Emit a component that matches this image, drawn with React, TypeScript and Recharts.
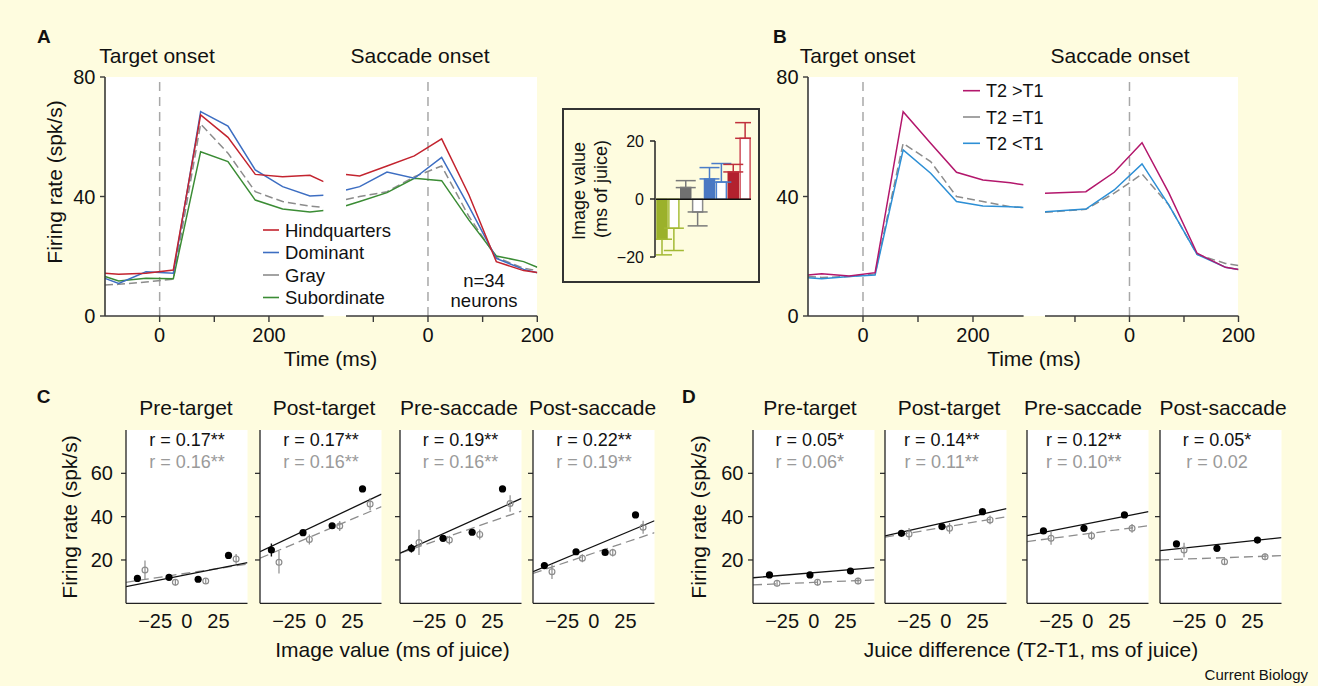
import React from "react";
import {
  LineChart,
  Line,
  XAxis,
  YAxis,
  ReferenceLine,
  BarChart,
  Bar,
  Cell,
  ErrorBar,
  ComposedChart,
  Scatter,
  CartesianGrid,
} from "recharts";

const FONT = '"Liberation Sans", Arial, Helvetica, sans-serif';
const BG = "#fefcdf";
const AXIS = "#3a3a3a";
const INK = "#111";

// ---- panel A: firing rate by image category ----
const aLeftT = [-100, -75, -25, 25, 75, 125, 175, 225, 275, 300];
const aHind = [14.3, 14.0, 14.3, 15.4, 67.3, 59.8, 47.4, 46.6, 47.1, 45.0];
const aDom = [12.6, 10.9, 14.8, 14.3, 68.4, 63.6, 48.9, 43.3, 40.2, 40.4];
const aGray = [10.4, 10.6, 11.4, 12.3, 64.3, 54.5, 41.6, 38.3, 36.8, 36.4];
const aSub = [13.2, 11.7, 12.6, 12.5, 55.0, 51.7, 38.8, 35.8, 34.8, 35.3];

const aRightT = [-150, -125, -75, -25, 25, 75, 125, 175, 200];
const aHindR = [47.4, 46.9, 50.2, 53.6, 59.3, 40.5, 18.2, 15.2, 14.6];
const aDomR = [42.2, 43.3, 48.2, 46.1, 53.1, 36.6, 19.3, 15.6, 14.5];
const aGrayR = [39.0, 40.0, 41.6, 46.6, 50.2, 33.3, 19.6, 16.0, 15.2];
const aSubR = [36.9, 38.3, 41.3, 46.1, 45.3, 32.1, 20.1, 18.2, 16.3];

const aLegend = ["Hindquarters", "Dominant", "Gray", "Subordinate"];

// ---- panel B: firing rate by juice difference ----
const bLeftT = [-100, -75, -25, 22, 73, 123, 170, 218, 268, 292];
const bHigh = [13.7, 14.1, 13.4, 14.5, 68.4, 57.8, 48.1, 45.5, 44.6, 43.9];
const bEq = [13.2, 12.9, 13.2, 14.1, 57.8, 51.7, 40.0, 38.3, 36.6, 36.3];
const bLow = [12.8, 12.5, 13.2, 13.7, 55.6, 47.8, 38.3, 36.8, 36.6, 36.3];

const bRightT = [-155, -80, -28, 23, 72, 124, 176, 200];
const bHighR = [41.1, 41.6, 48.1, 58.0, 41.3, 21.0, 16.3, 15.6];
const bEqR = [34.7, 35.7, 41.1, 47.5, 37.2, 20.6, 17.6, 16.9];
const bLowR = [34.9, 35.8, 42.2, 50.9, 37.2, 20.6, 16.3, 15.6];

const bLegend = ["T2 >T1", "T2 =T1", "T2 <T1"];

// ---- inset: image value ----
const insetCats = ["sub", "sub2", "gray", "gray2", "dom", "dom2", "hq", "hq2"];
const insetVals = [-13.8, -10.0, 4.0, -4.4, 7.0, 5.9, 9.4, 21.0];
const insetErr = [5.4, 7.7, 2.4, 4.8, 3.9, 6.4, 2.6, 5.4];

// ---- panels C and D: regressions ----
const panelTitles = ["Pre-target", "Post-target", "Pre-saccade", "Post-saccade"];

const cRBlack = ["r = 0.17**", "r = 0.17**", "r = 0.19**", "r = 0.22**"];
const cRGray = ["r = 0.16**", "r = 0.16**", "r = 0.16**", "r = 0.19**"];
const cBlackX = [-39, -14, 9, 33];
const cGrayX = [-33, -9, 15, 39];
const cBlackY = [
  [11.5, 12.0, 11.1, 22.1],
  [24.6, 32.6, 35.8, 52.8],
  [25.4, 30.0, 32.8, 52.8],
  [17.4, 23.8, 23.5, 40.8],
];
const cBlackErr = [
  [0.8, 0.8, 0.8, 0.8],
  [3.0, 1.2, 1.0, 1.0],
  [2.0, 1.0, 1.0, 1.0],
  [1.5, 1.0, 1.0, 1.0],
];
const cGrayY = [
  [15.4, 9.7, 10.3, 20.5],
  [18.9, 29.5, 35.7, 45.8],
  [28.1, 29.2, 31.8, 46.1],
  [14.6, 20.8, 23.4, 35.1],
];
const cGrayErr = [
  [4.3, 1.5, 1.2, 2.3],
  [5.2, 2.3, 2.3, 2.8],
  [5.8, 2.0, 2.3, 3.8],
  [3.4, 1.8, 1.8, 3.0],
];
const cFitBlack = [
  [7.7, 18.8],
  [23.8, 50.4],
  [23.1, 48.4],
  [14.6, 38.1],
];
const cFitGray = [
  [9.7, 18.1],
  [20.8, 44.6],
  [23.1, 42.6],
  [13.8, 32.6],
];

const dRBlack = ["r = 0.05*", "r = 0.14**", "r = 0.12**", "r = 0.05*"];
const dRGray = ["r = 0.06*", "r = 0.11**", "r = 0.10**", "r = 0.02"];
const dBlackX = [-35, -3, 29];
const dGrayX = [-29, 3, 35];
const dBlackY = [
  [13.1, 13.1, 14.9],
  [32.3, 35.4, 42.3],
  [33.4, 34.6, 40.8],
  [27.4, 25.4, 29.2],
];
const dBlackErr = [
  [0.8, 0.8, 0.8],
  [0.8, 0.8, 0.8],
  [0.8, 0.8, 0.8],
  [0.8, 0.8, 0.8],
];
const dGrayY = [
  [9.2, 9.7, 10.3],
  [32.0, 34.6, 38.5],
  [30.0, 31.2, 34.6],
  [24.6, 19.2, 21.5],
];
const dGrayErr = [
  [1.5, 1.5, 1.5],
  [2.8, 2.5, 2.0],
  [3.0, 2.0, 2.0],
  [3.3, 1.5, 1.5],
];
const dFitBlack = [
  [11.8, 16.5],
  [31.1, 43.7],
  [31.2, 42.3],
  [24.3, 30.3],
];
const dFitGray = [
  [8.5, 10.8],
  [30.5, 40.0],
  [28.5, 35.8],
  [20.0, 22.0],
];

// colours
const RED = "#c3242f";
const BLUE = "#3d6ec2";
const GRAY = "#8c8c8c";
const GREEN = "#3b8c35";
const MAGENTA = "#b3176c";
const SKY = "#2d8fd5";

const insetFill = ["#9bb12b", "#fff", "#707070", "#fff", "#4a78c2", "#fff", "#b3212e", "#fff"];
const insetStroke = ["#9bb12b", "#a9bf3c", "#707070", "#8c8c8c", "#4a78c2", "#4a80d0", "#b3212e", "#cf4f5b"];
const errKeys = ["eSub", "eGray", "eDom", "eHq"];
const errColors = ["#a3b934", "#7a7a7a", "#4a7cc8", "#c0303c"];

const fmtMinus = (v: number) => (v < 0 ? `\u2212${-v}` : `${v}`);

type SeriesDef = { key: string; color: string; dash?: string };

const aSeries: SeriesDef[] = [
  { key: "gray", color: GRAY, dash: "8 4" },
  { key: "sub", color: GREEN },
  { key: "dom", color: BLUE },
  { key: "hq", color: RED },
];
const bSeries: SeriesDef[] = [
  { key: "eq", color: GRAY, dash: "8 4" },
  { key: "lo", color: SKY },
  { key: "hi", color: MAGENTA },
];

function TimeSeg(props: {
  x: number;
  w: number;
  domain: [number, number];
  ticks: number[];
  labeled: number[];
  showY: boolean;
  yMargin?: number;
  data: Record<string, number>[];
  series: SeriesDef[];
}) {
  const { x, w, domain, ticks, labeled, showY, yMargin = 4.5, data, series } = props;
  const ml = 50;
  const mr = 22;
  const mt = 14;
  const mb = 45;
  const top = 77;
  const h = 239;
  return (
    <div style={{ position: "absolute", left: x - ml, top: top - mt }}>
      <LineChart
        width={ml + w + mr}
        height={mt + h + mb}
        data={data}
        margin={{ top: mt, right: mr, bottom: 0, left: 0 }}
      >
        <XAxis
          type="number"
          dataKey="t"
          domain={domain}
          ticks={ticks}
          allowDataOverflow
          height={mb}
          tickSize={6}
          tickMargin={5.5}
          interval={0}
          tickFormatter={(v: number) => (labeled.includes(v) ? String(v) : "")}
          axisLine={{ stroke: AXIS, strokeWidth: 1.6 }}
          tickLine={{ stroke: AXIS, strokeWidth: 1.4 }}
          tick={{ fontSize: 20, fill: INK }}
        />
        <YAxis
          width={ml}
          domain={[0, 80]}
          ticks={[0, 40, 80]}
          interval={0}
          tickSize={5}
          tickMargin={yMargin}
          axisLine={showY ? { stroke: AXIS, strokeWidth: 1.6 } : false}
          tickLine={showY ? { stroke: AXIS, strokeWidth: 1.4 } : false}
          tick={showY ? { fontSize: 20, fill: INK } : false}
        />
        <ReferenceLine x={0} stroke="#a8a8a8" strokeDasharray="9 6" strokeWidth={1.5} />
        {series.map((s) => (
          <Line
            key={s.key}
            type="linear"
            dataKey={s.key}
            stroke={s.color}
            strokeDasharray={s.dash}
            strokeWidth={1.5}
            dot={false}
            isAnimationActive={false}
          />
        ))}
      </LineChart>
    </div>
  );
}

const blackDot = (p: any) => <circle cx={p.cx} cy={p.cy} r={3.6} fill="#000" />;
const grayDot = (p: any) => (
  <circle cx={p.cx} cy={p.cy} r={2.9} fill="none" stroke={GRAY} strokeWidth={1.2} />
);

function Corr(props: {
  x: number;
  showLabels: boolean;
  yMargin: number;
  bx: number[];
  by: number[];
  be: number[];
  gx: number[];
  gy: number[];
  ge: number[];
  fitB: number[];
  fitG: number[];
}) {
  const { x, showLabels, yMargin, bx, by, be, gx, gy, ge, fitB, fitG } = props;
  const ml = 45;
  const mr = 16;
  const mb = 40;
  const top = 430;
  const w = 121.5;
  const h = 173.3;
  const black = bx.map((v, i) => ({ x: v, y: by[i], e: be[i] }));
  const gray = gx.map((v, i) => ({ x: v, y: gy[i], e: ge[i] }));
  const lineB = [
    { x: -48, y: fitB[0] },
    { x: 48, y: fitB[1] },
  ];
  const lineG = [
    { x: -48, y: fitG[0] },
    { x: 48, y: fitG[1] },
  ];
  return (
    <div style={{ position: "absolute", left: x - ml, top }}>
      <ComposedChart
        width={ml + w + mr}
        height={h + mb}
        margin={{ top: 0, right: mr, bottom: 0, left: 0 }}
      >
        <CartesianGrid fill="#fff" horizontal={false} vertical={false} />
        <XAxis
          type="number"
          dataKey="x"
          domain={[-48, 48]}
          ticks={[-25, 0, 25]}
          interval={0}
          allowDataOverflow
          height={mb}
          tickLine={false}
          tickSize={6}
          tickMargin={5}
          tickFormatter={fmtMinus}
          axisLine={{ stroke: "#222", strokeWidth: 1.3 }}
          tick={{ fontSize: 20, fill: INK }}
        />
        <YAxis
          type="number"
          dataKey="y"
          width={ml}
          domain={[0, 80]}
          ticks={[20, 40, 60]}
          interval={0}
          allowDataOverflow
          tickSize={5}
          tickMargin={yMargin}
          tickFormatter={(v: number) => (showLabels ? String(v) : "")}
          axisLine={{ stroke: "#222", strokeWidth: 1.3 }}
          tickLine={{ stroke: "#222", strokeWidth: 1.2 }}
          tick={{ fontSize: 20, fill: INK }}
        />
        <Line
          data={lineG}
          dataKey="y"
          stroke={GRAY}
          strokeDasharray="9 5"
          strokeWidth={1.3}
          dot={false}
          isAnimationActive={false}
        />
        <Line data={lineB} dataKey="y" stroke="#111" strokeWidth={1.3} dot={false} isAnimationActive={false} />
        <Scatter data={gray} shape={grayDot} isAnimationActive={false}>
          <ErrorBar dataKey="e" direction="y" width={0} stroke={GRAY} strokeWidth={1.2} />
        </Scatter>
        <Scatter data={black} shape={blackDot} isAnimationActive={false}>
          <ErrorBar dataKey="e" direction="y" width={0} stroke="#111" strokeWidth={1.4} />
        </Scatter>
      </ComposedChart>
    </div>
  );
}

function Txt(props: {
  x: number;
  y: number;
  s?: number;
  a?: "start" | "middle" | "end";
  c?: string;
  bold?: boolean;
  rot?: boolean;
  children: React.ReactNode;
}) {
  const { x, y, s = 21, a = "middle", c = INK, bold, rot, children } = props;
  return (
    <text
      x={x}
      y={y}
      fontSize={s}
      textAnchor={a}
      fill={c}
      fontWeight={bold ? 700 : 400}
      transform={rot ? `rotate(-90 ${x} ${y})` : undefined}
    >
      {children}
    </text>
  );
}

export default function App() {
  const aLeftRows = aLeftT.map((t, i) => ({ t, hq: aHind[i], dom: aDom[i], gray: aGray[i], sub: aSub[i] }));
  const aRightRows = aRightT.map((t, i) => ({ t, hq: aHindR[i], dom: aDomR[i], gray: aGrayR[i], sub: aSubR[i] }));
  const bLeftRows = bLeftT.map((t, i) => ({ t, hi: bHigh[i], eq: bEq[i], lo: bLow[i] }));
  const bRightRows = bRightT.map((t, i) => ({ t, hi: bHighR[i], eq: bEqR[i], lo: bLowR[i] }));

  const insetRows = insetCats.map((k, i) => {
    const v = insetVals[i];
    const row: Record<string, any> = { k, v };
    row[errKeys[Math.floor(i / 2)]] = v < 0 ? [insetErr[i], 0] : [0, insetErr[i]];
    return row;
  });

  const aLegendColors = [RED, BLUE, GRAY, GREEN];
  const bLegendColors = [MAGENTA, GRAY, SKY];
  const cLefts = [126, 260, 399.5, 533];
  const dLefts = [752.7, 884.7, 1026.7, 1160];
  const cTitleX = [186, 324, 459, 592.5];
  const dTitleX = [810, 949, 1083, 1223];

  return (
    <div
      style={{
        position: "fixed",
        left: 0,
        top: 0,
        width: 1318,
        height: 686,
        background: BG,
        overflow: "hidden",
        fontFamily: FONT,
      }}
    >
      {/* white plot backgrounds for A and B */}
      <div style={{ position: "absolute", left: 106, top: 77, width: 431, height: 239, background: "#fff" }} />
      <div style={{ position: "absolute", left: 808, top: 77, width: 430, height: 239, background: "#fff" }} />

      {/* A */}
      <TimeSeg
        x={105.4}
        w={218.6}
        domain={[-100, 300]}
        ticks={[0, 100, 200]}
        labeled={[0, 200]}
        showY
        data={aLeftRows}
        series={aSeries}
      />
      <TimeSeg
        x={345.7}
        w={191.3}
        domain={[-150, 200]}
        ticks={[-100, 0, 100, 200]}
        labeled={[0, 200]}
        showY={false}
        data={aRightRows}
        series={aSeries}
      />

      {/* B */}
      <TimeSeg
        x={807.7}
        w={215.6}
        domain={[-100, 292]}
        ticks={[0, 100, 200]}
        labeled={[0, 200]}
        showY
        yMargin={4.4}
        data={bLeftRows}
        series={bSeries}
      />
      <TimeSeg
        x={1044.8}
        w={193.5}
        domain={[-155, 200]}
        ticks={[-100, 0, 100, 200]}
        labeled={[0, 200]}
        showY={false}
        data={bRightRows}
        series={bSeries}
      />

      {/* inset */}
      <div
        style={{
          position: "absolute",
          left: 562,
          top: 107.5,
          width: 198,
          height: 175,
          border: "2px solid #333",
          boxSizing: "border-box",
        }}
      />
      <div style={{ position: "absolute", left: 615, top: 128.7 }}>
        <BarChart width={135} height={140} data={insetRows} margin={{ top: 12, right: 0, bottom: 12, left: 0 }}>
          <XAxis dataKey="k" hide />
          <YAxis
            width={40}
            domain={[-20, 20]}
            ticks={[-20, 0, 20]}
            interval={0}
            allowDataOverflow
            tickSize={5}
            tickMargin={6}
            tickFormatter={fmtMinus}
            axisLine={{ stroke: "#222", strokeWidth: 1.5 }}
            tickLine={{ stroke: "#222", strokeWidth: 1.5 }}
            tick={{ fontSize: 16, fill: INK }}
          />
        </BarChart>
      </div>
      <div style={{ position: "absolute", left: 655.5, top: 117.5 }}>
        <BarChart
          width={95}
          height={139.2}
          data={insetRows}
          margin={{ top: 0, right: 0, bottom: 0, left: 0 }}
          barCategoryGap={0}
        >
          <XAxis dataKey="k" hide />
          <YAxis hide domain={[-20, 28]} allowDataOverflow />
          <Bar dataKey="v" barSize={10} isAnimationActive={false} strokeWidth={1.5}>
            {insetRows.map((r, i) => (
              <Cell key={r.k} fill={insetFill[i]} stroke={insetStroke[i]} />
            ))}
            {errKeys.map((k, i) => (
              <ErrorBar key={k} dataKey={k} direction="y" width={10} stroke={errColors[i]} strokeWidth={1.5} />
            ))}
          </Bar>
          <ReferenceLine y={0} stroke="#111" strokeWidth={1.6} />
        </BarChart>
      </div>

      {/* C */}
      {cLefts.map((x, i) => (
        <Corr
          key={"c" + i}
          x={x}
          showLabels={i === 0}
          yMargin={8}
          bx={cBlackX}
          by={cBlackY[i]}
          be={cBlackErr[i]}
          gx={cGrayX}
          gy={cGrayY[i]}
          ge={cGrayErr[i]}
          fitB={cFitBlack[i]}
          fitG={cFitGray[i]}
        />
      ))}

      {/* D */}
      {dLefts.map((x, i) => (
        <Corr
          key={"d" + i}
          x={x}
          showLabels={i === 0}
          yMargin={4.5}
          bx={dBlackX}
          by={dBlackY[i]}
          be={dBlackErr[i]}
          gx={dGrayX}
          gy={dGrayY[i]}
          ge={dGrayErr[i]}
          fitB={dFitBlack[i]}
          fitG={dFitGray[i]}
        />
      ))}

      {/* text and legends */}
      <svg
        width={1318}
        height={686}
        style={{ position: "absolute", left: 0, top: 0, pointerEvents: "none", fontFamily: FONT }}
      >
        {/* A */}
        <Txt x={37} y={43} s={19} a="start" bold>
          A
        </Txt>
        <Txt x={157} y={63}>Target onset</Txt>
        <Txt x={420} y={63}>Saccade onset</Txt>
        <Txt x={62} y={182} rot>
          Firing rate (spk/s)
        </Txt>
        <Txt x={330.5} y={366}>Time (ms)</Txt>
        {aLegend.map((name, i) => (
          <g key={name}>
            <line x1={263} x2={279} y1={230 + i * 22.5} y2={230 + i * 22.5} stroke={aLegendColors[i]} strokeWidth={1.6} />
            <Txt x={285} y={236.7 + i * 22.5} s={18.5} a="start">
              {name}
            </Txt>
          </g>
        ))}
        <Txt x={484} y={287} s={18.5}>
          n=34
        </Txt>
        <Txt x={484} y={307.3} s={18.5}>
          neurons
        </Txt>

        {/* inset label */}
        <Txt x={585} y={191} s={18} rot>
          Image value
        </Txt>
        <Txt x={607} y={189} s={18} rot>
          (ms of juice)
        </Txt>

        {/* B */}
        <Txt x={773} y={43} s={19} a="start" bold>
          B
        </Txt>
        <Txt x={857.5} y={63}>Target onset</Txt>
        <Txt x={1120} y={63}>Saccade onset</Txt>
        <Txt x={1034} y={366}>Time (ms)</Txt>
        {bLegend.map((name, i) => (
          <g key={name}>
            <line
              x1={963}
              x2={980}
              y1={90.7 + i * 26.3}
              y2={90.7 + i * 26.3}
              stroke={bLegendColors[i]}
              strokeWidth={1.6}
            />
            <Txt x={986} y={97.3 + i * 26.3} s={18} a="start">
              {name}
            </Txt>
          </g>
        ))}

        {/* C */}
        <Txt x={36.7} y={402.7} s={19} a="start" bold>
          C
        </Txt>
        {panelTitles.map((t, i) => (
          <Txt key={"ct" + i} x={cTitleX[i]} y={415}>
            {t}
          </Txt>
        ))}
        {cLefts.map((x, i) => (
          <g key={"cr" + i}>
            <Txt x={x + 61} y={446} s={18}>
              {cRBlack[i]}
            </Txt>
            <Txt x={x + 61} y={468.3} s={18} c="#9a9a9a">
              {cRGray[i]}
            </Txt>
          </g>
        ))}
        <Txt x={77} y={517} rot>
          Firing rate (spk/s)
        </Txt>
        <Txt x={392.5} y={656.7}>Image value (ms of juice)</Txt>

        {/* D */}
        <Txt x={682} y={402.7} s={19} a="start" bold>
          D
        </Txt>
        {panelTitles.map((t, i) => (
          <Txt key={"dt" + i} x={dTitleX[i]} y={415}>
            {t}
          </Txt>
        ))}
        {dLefts.map((x, i) => (
          <g key={"dr" + i}>
            <Txt x={x + 57} y={446} s={18}>
              {dRBlack[i]}
            </Txt>
            <Txt x={x + 57} y={468.3} s={18} c="#9a9a9a">
              {dRGray[i]}
            </Txt>
          </g>
        ))}
        <Txt x={706} y={517} rot>
          Firing rate (spk/s)
        </Txt>
        <Txt x={1031} y={656.7}>Juice difference (T2-T1, ms of juice)</Txt>
        <Txt x={1308} y={680} s={15} a="end">
          Current Biology
        </Txt>
      </svg>
    </div>
  );
}
